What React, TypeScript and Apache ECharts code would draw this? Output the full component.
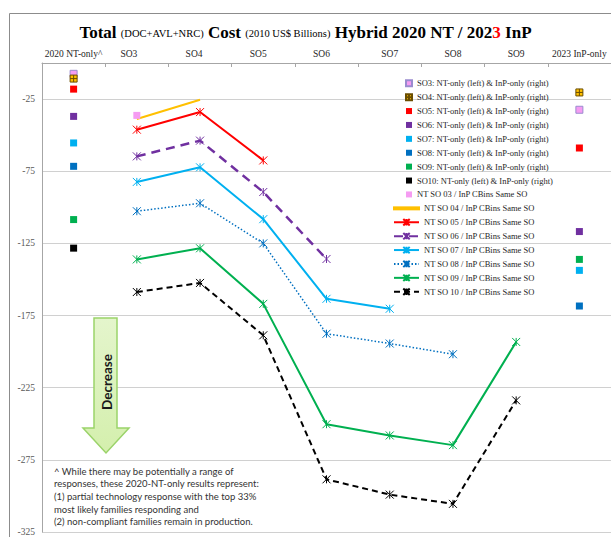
import React, { useEffect, useRef } from "react";
import * as echarts from "echarts";

const categories = ["2020 NT-only^", "SO3", "SO4", "SO5", "SO6", "SO7", "SO8", "SO9", "2023 InP-only"];
const soNames = ["SO3", "SO4", "SO5", "SO6", "SO7", "SO8", "SO9", "SO10"];
const soColors = ["#f59cf2", "#ffc000", "#ff0000", "#7030a0", "#00b0f0", "#0070c0", "#00b050", "#000000"];

// Left column (2020 NT-only) and right column (2023 InP-only), SO3..SO10
const ntOnly = [-7.5, -10.8, -18.1, -37.0, -55.4, -71.6, -108.5, -128.3];
const inpOnly: (number | null)[] = [-32.4, -20.4, -58.9, -116.8, -143.7, -168.4, -136.1, null];

// NT SO xx / InP CBins Same SO lines, one value per category
const so03Line = [null, -36.3, null, null, null, null, null, null, null];
const so04Line = [null, -38.8, -25.5, null, null, null, null, null, null];
const so05Line = [null, -46.2, -34.0, -67.5, null, null, null, null, null];
const so06Line = [null, -64.7, -53.8, -89.4, -135.8, null, null, null, null];
const so07Line = [null, -82.4, -72.3, -108.2, -163.4, -170.3, null, null, null];
const so08Line = [null, -102.7, -97.2, -125.0, -187.6, -194.4, -201.8, null, null];
const so09Line = [null, -136.1, -128.4, -166.9, -250.3, -258.1, -264.8, -193.3, null];
const so10Line = [null, -158.7, -152.4, -188.7, -288.5, -299.1, -305.5, -233.8, null];

const yMin = -325;
const yMax = 0;
const yInterval = 50;

const noteLines = [
  "^ While there may be potentially a range of",
  "responses, these 2020-NT-only results represent:",
  "(1) partial technology response with the top 33%",
  "most likely families responding and",
  "(2) non-compliant families remain in production.",
];

const STAR = "path://M0,0L10,10M10,0L0,10M5,0L5,10";
const PLUS = "path://M0,0H10V10H0Z M5,0V10 M0,5H10";
const FLAT_LINE = "path://M0,0L0,0M0,3H25V5H0ZM25,8L25,8";
const SERIF = "'Liberation Serif', 'Times New Roman', serif";
const SANS = "Lato, 'Liberation Sans', sans-serif";

// horizontal nudges of the category labels (px, negative = left)
const labelShift = [0, -8, -6, -5, -5, 0, 0, 0, 0];

export default function App() {
  const ref = useRef<HTMLDivElement>(null);

  useEffect(() => {
    if (!ref.current) return;
    const chart = echarts.init(ref.current, null, { renderer: "svg" });

    const scatterSeries = soNames.map((so, i) => {
      const data: any[] = [[categories[0], ntOnly[i]]];
      if (inpOnly[i] !== null) data.push([categories[8], inpOnly[i]]);
      const isPlus = i === 1;
      return {
        type: "scatter",
        name: `${so}: NT-only (left) & InP-only (right)`,
        symbol: isPlus ? PLUS : "rect",
        symbolSize: 7,
        data,
        itemStyle: {
          color: soColors[i],
          borderColor: i === 0 ? "#9a8ccf" : isPlus ? "#6b4e00" : soColors[i],
          borderWidth: i === 0 || isPlus ? 1 : 0,
          opacity: 1,
        },
        z: 3,
      };
    });

    const lineDefs = [
      { name: "NT SO 03 / InP CBins Same SO", data: so03Line, color: soColors[0], symbol: "rect", size: 7, type: "solid", width: 2, noLine: true },
      { name: "NT SO 04 / InP CBins Same SO", data: so04Line, color: soColors[1], symbol: "none", size: 0, type: "solid", width: 2 },
      { name: "NT SO 05 / InP CBins Same SO", data: so05Line, color: soColors[2], symbol: STAR, size: 8, type: "solid", width: 2 },
      { name: "NT SO 06 / InP CBins Same SO", data: so06Line, color: soColors[3], symbol: STAR, size: 8, type: [9, 6], width: 2.5 },
      { name: "NT SO 07 / InP CBins Same SO", data: so07Line, color: soColors[4], symbol: STAR, size: 8, type: "solid", width: 2 },
      { name: "NT SO 08 / InP CBins Same SO", data: so08Line, color: soColors[5], symbol: STAR, size: 8, type: [1.5, 2], width: 1.5 },
      { name: "NT SO 09 / InP CBins Same SO", data: so09Line, color: soColors[6], symbol: STAR, size: 8, type: "solid", width: 2 },
      { name: "NT SO 10 / InP CBins Same SO", data: so10Line, color: soColors[7], symbol: STAR, size: 8, type: [6, 4], width: 2 },
    ];

    const lineSeries = lineDefs.map((d) => ({
      type: "line",
      name: d.name,
      data: d.data,
      connectNulls: false,
      symbol: d.symbol,
      symbolSize: d.size,
      showSymbol: d.symbol !== "none",
      lineStyle: { color: d.color, width: d.width, type: d.type as any, opacity: d.noLine ? 0 : 1 },
      itemStyle: {
        color: d.color,
        borderColor: d.color,
        borderWidth: d.noLine ? 0 : 1,
      },
      z: d.noLine ? 4 : 2,
    }));

    const legendA = [
      ...soNames.map((so, i) => ({
        name: `${so}: NT-only (left) & InP-only (right)`,
        icon: i === 1 ? PLUS : "rect",
      })),
      { name: lineDefs[0].name, icon: "rect" },
    ];
    const legendB = lineDefs.slice(1).map((d, i) =>
      i === 0 ? { name: d.name, icon: FLAT_LINE } : { name: d.name }
    );

    const legendText = { fontFamily: SERIF, fontSize: 8.5, color: "#262626", lineHeight: 13.9 };

    const rich: any = {};
    labelShift.forEach((s, i) => {
      rich["c" + i] = {
        fontFamily: SERIF,
        fontSize: 9.5,
        color: "#262626",
        padding: s < 0 ? [0, -2 * s, 0, 0] : [0, 0, 0, 2 * s],
      };
    });

    const option: any = {
      animation: false,
      backgroundColor: "#ffffff",
      title: {
        text:
          "{b|Total} {n|(DOC+AVL+NRC)} {b|Cost} {n|(2010 US$ Billions)} {b|Hybrid 2020 NT / 202}{r|3}{b| InP}",
        left: "center",
        top: 14,
        textStyle: {
          fontFamily: SERIF,
          fontSize: 17,
          fontWeight: "bold",
          color: "#000",
          rich: {
            b: { fontFamily: SERIF, fontSize: 17, fontWeight: "bold", color: "#000", verticalAlign: "bottom", lineHeight: 22 },
            r: { fontFamily: SERIF, fontSize: 17, fontWeight: "bold", color: "#ff0000", verticalAlign: "bottom", lineHeight: 22 },
            n: { fontFamily: SERIF, fontSize: 10.5, fontWeight: "normal", color: "#000", verticalAlign: "bottom", lineHeight: 22, padding: [0, 0, 2, 0] },
          },
        },
      },
      grid: { left: 42, top: 63, width: 570, height: 470 },
      legend: [
        {
          orient: "vertical",
          left: 405,
          top: 76.3,
          padding: 0,
          itemGap: 0,
          itemWidth: 6,
          itemHeight: 6,
          itemTextGap: 15,
          textStyle: legendText,
          data: legendA,
          selectedMode: false,
        },
        {
          orient: "vertical",
          left: 393,
          top: 201.4,
          padding: 0,
          itemGap: 0,
          itemWidth: 25,
          itemHeight: 8,
          itemTextGap: 2,
          textStyle: legendText,
          data: legendB,
          selectedMode: false,
        },
      ],
      xAxis: {
        type: "category",
        position: "top",
        data: categories,
        boundaryGap: true,
        axisLine: { show: true, lineStyle: { color: "#a6a6a6", width: 1 } },
        axisTick: { show: true, inside: true, length: 4, lineStyle: { color: "#a6a6a6" } },
        axisLabel: {
          fontFamily: SERIF,
          fontSize: 9.5,
          color: "#262626",
          margin: 4,
          interval: 0,
          formatter: (v: string, i: number) => `{c${i}|${v}}`,
          rich,
        },
        splitLine: { show: false },
      },
      yAxis: {
        type: "value",
        min: yMin,
        max: yMax,
        interval: yInterval,
        axisLine: { show: true, lineStyle: { color: "#a6a6a6", width: 1 } },
        axisTick: { show: false },
        axisLabel: { fontFamily: SERIF, fontSize: 9.5, color: "#595959", margin: 7, showMaxLabel: false },
        splitLine: { show: true, lineStyle: { color: "#d0d0d0", width: 1 } },
      },
      graphic: [
        {
          type: "rect",
          shape: { x: 9.5, y: 13.5, width: 640, height: 560 },
          style: { fill: "none", stroke: "#8c8c8c", lineWidth: 1 },
          silent: true,
          z: -10,
        },
        {
          type: "polygon",
          shape: {
            points: [
              [94, 318],
              [117, 318],
              [117, 428],
              [129, 428],
              [106, 453],
              [83, 428],
              [94, 428],
            ],
          },
          style: {
            fill: new echarts.graphic.LinearGradient(0, 0, 0, 1, [
              { offset: 0, color: "#e4f5cc" },
              { offset: 1, color: "#d4efad" },
            ]),
            stroke: "#9bd36a",
            lineWidth: 1.5,
          },
          z: 10,
        },
        {
          type: "text",
          x: 106.5,
          y: 382,
          rotation: Math.PI / 2,
          style: {
            text: "Decrease",
            fontFamily: SANS,
            fontWeight: "bold",
            fontSize: 13.5,
            fill: "#1a1a1a",
            align: "center",
            verticalAlign: "middle",
          },
          z: 11,
        },
        {
          type: "text",
          left: 54,
          top: 465,
          style: {
            text: noteLines.join("\n"),
            fontFamily: SANS,
            fontSize: 9.5,
            lineHeight: 12.6,
            fill: "#333333",
          },
          z: 11,
        },
      ],
      series: [...scatterSeries, ...lineSeries],
    };

    chart.setOption(option);
    return () => chart.dispose();
  }, []);

  return (
    <div
      ref={ref}
      style={{ position: "fixed", left: 0, top: 0, width: 611, height: 537, background: "#fff" }}
    />
  );
}
